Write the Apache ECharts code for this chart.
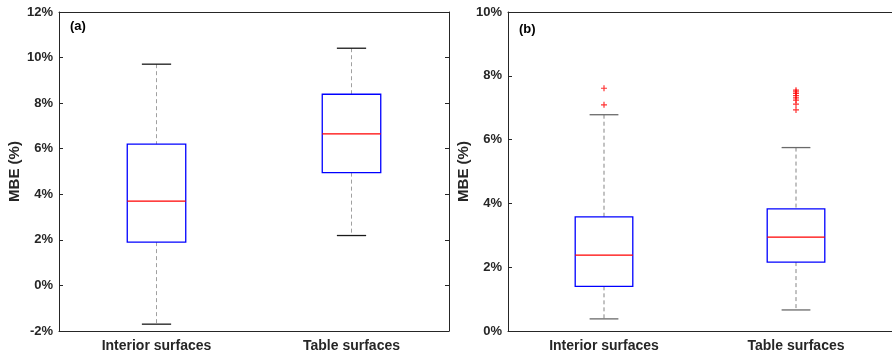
<!DOCTYPE html>
<html>
<head>
<meta charset="utf-8">
<script src="https://cdn.jsdelivr.net/npm/echarts@6/dist/echarts.min.js"></script>
<style>
  html, body { margin: 0; padding: 0; background: #fff; }
  #chart { width: 892px; height: 355px; }
</style>
</head>
<body>
<div id="chart"></div>
<script>
// categories
var categories = ['Interior surfaces', 'Table surfaces'];

// panel (a): [whiskerLow, q1, median, q3, whiskerHigh]
var boxA = [
  [-1.70, 1.90, 3.70, 6.20, 9.71],
  [2.19, 4.95, 6.65, 8.39, 10.41]
];
var outliersA = [];

// panel (b)
var boxB = [
  [0.38, 1.40, 2.38, 3.58, 6.78],
  [0.66, 2.16, 2.94, 3.83, 5.75]
];
var outliersB = [
  [0, 7.61], [0, 7.09],
  [1, 7.55], [1, 7.50], [1, 7.45], [1, 7.38], [1, 7.31], [1, 7.24], [1, 7.11], [1, 6.93]
];

var ticksA = { min: -2, max: 12, interval: 2 };
var ticksB = { min: 0, max: 10, interval: 2 };

var FONT = 'Liberation Sans, Arial, sans-serif';
var AXIS_COLOR = '#262626';

function makeBoxData(box) {
  return box.map(function (b, i) { return [i].concat(b); });
}

function boxRenderer(capColor, dashColor) {
  return function (params, api) {
    var idx = api.value(0);
    var pLow = api.coord([idx, api.value(1)]);
    var pQ1 = api.coord([idx, api.value(2)]);
    var pMed = api.coord([idx, api.value(3)]);
    var pQ3 = api.coord([idx, api.value(4)]);
    var pHigh = api.coord([idx, api.value(5)]);
    var band = api.size([1, 0])[0];
    var halfBox = band * 0.15;
    var halfCap = band * 0.075;
    var x = pMed[0];
    return {
      type: 'group',
      children: [
        { type: 'line', shape: { x1: x, y1: pHigh[1], x2: x, y2: pQ3[1] },
          style: { stroke: dashColor, lineWidth: 1, lineDash: [4, 3] } },
        { type: 'line', shape: { x1: x, y1: pQ1[1], x2: x, y2: pLow[1] },
          style: { stroke: dashColor, lineWidth: 1, lineDash: [4, 3] } },
        { type: 'line', shape: { x1: x - halfCap, y1: pHigh[1], x2: x + halfCap, y2: pHigh[1] },
          style: { stroke: capColor, lineWidth: 1.3 } },
        { type: 'line', shape: { x1: x - halfCap, y1: pLow[1], x2: x + halfCap, y2: pLow[1] },
          style: { stroke: capColor, lineWidth: 1.3 } },
        { type: 'rect', shape: { x: x - halfBox, y: pQ3[1], width: halfBox * 2, height: pQ1[1] - pQ3[1] },
          style: { fill: null, stroke: '#0000ff', lineWidth: 1.3 } },
        { type: 'line', shape: { x1: x - halfBox, y1: pMed[1], x2: x + halfBox, y2: pMed[1] },
          style: { stroke: '#ff0000', lineWidth: 1.2 } }
      ]
    };
  };
}

function xAxes(gridIndex) {
  return [
    {
      type: 'category', gridIndex: gridIndex, data: categories, position: 'bottom',
      axisLine: { onZero: false, lineStyle: { color: AXIS_COLOR, width: 1 } },
      axisTick: { inside: true, alignWithLabel: true, length: 4, lineStyle: { color: AXIS_COLOR } },
      axisLabel: { color: AXIS_COLOR, fontFamily: FONT, fontWeight: 'bold', fontSize: 14, margin: 8 },
      splitLine: { show: false }
    },
    {
      type: 'category', gridIndex: gridIndex, data: categories, position: 'top',
      axisLine: { onZero: false, lineStyle: { color: AXIS_COLOR, width: 1 } },
      axisTick: { inside: true, alignWithLabel: true, length: 4, lineStyle: { color: AXIS_COLOR } },
      axisLabel: { show: false },
      splitLine: { show: false }
    }
  ];
}

function yAxes(gridIndex, t, nameGap, showRight) {
  return [
    {
      type: 'value', gridIndex: gridIndex, position: 'left',
      min: t.min, max: t.max, interval: t.interval,
      name: 'MBE (%)', nameLocation: 'middle', nameRotate: 90, nameGap: nameGap,
      nameTextStyle: { color: AXIS_COLOR, fontFamily: FONT, fontWeight: 'bold', fontSize: 15 },
      axisLine: { show: true, onZero: false, lineStyle: { color: AXIS_COLOR, width: 1 } },
      axisTick: { show: true, inside: true, length: 4, lineStyle: { color: AXIS_COLOR } },
      axisLabel: { color: AXIS_COLOR, fontFamily: FONT, fontWeight: 'bold', fontSize: 13, margin: 6,
        formatter: '{value}%' },
      splitLine: { show: false }
    },
    {
      type: 'value', gridIndex: gridIndex, position: 'right', show: showRight,
      min: t.min, max: t.max, interval: t.interval,
      axisLine: { show: true, onZero: false, lineStyle: { color: AXIS_COLOR, width: 1 } },
      axisTick: { show: true, inside: true, length: 4, lineStyle: { color: AXIS_COLOR } },
      axisLabel: { show: false },
      splitLine: { show: false }
    }
  ];
}

var plus = 'path://M4,0H6V4H10V6H6V10H4V6H0V4H4Z';

var chart = echarts.init(document.getElementById('chart'), null, { renderer: 'canvas' });

var option = {
  backgroundColor: '#ffffff',
  animation: false,
  title: [
    { text: '(a)', left: 65, top: 15, textStyle: { fontFamily: FONT, fontWeight: 'bold', fontSize: 13, color: '#000' } },
    { text: '(b)', left: 514, top: 18, textStyle: { fontFamily: FONT, fontWeight: 'bold', fontSize: 13, color: '#000' } }
  ],
  grid: [
    { left: 59, top: 12, width: 390, height: 319, containLabel: false },
    { left: 508, top: 12, width: 389, height: 319, containLabel: false }
  ],
  xAxis: xAxes(0).concat(xAxes(1)),
  yAxis: yAxes(0, ticksA, 37, true).concat(yAxes(1, ticksB, 37, false)),
  series: [
    {
      type: 'custom', xAxisIndex: 0, yAxisIndex: 0,
      renderItem: boxRenderer('#1a1a1a', '#a0a0a0'),
      encode: { x: 0, y: [1, 2, 3, 4, 5] },
      data: makeBoxData(boxA)
    },
    {
      type: 'scatter', xAxisIndex: 0, yAxisIndex: 0,
      symbol: plus, symbolSize: 6, itemStyle: { color: '#ff0000' },
      data: outliersA
    },
    {
      type: 'custom', xAxisIndex: 2, yAxisIndex: 2,
      renderItem: boxRenderer('#6a6a6a', '#858585'),
      encode: { x: 0, y: [1, 2, 3, 4, 5] },
      data: makeBoxData(boxB)
    },
    {
      type: 'scatter', xAxisIndex: 2, yAxisIndex: 2,
      symbol: plus, symbolSize: 6, itemStyle: { color: '#ff0000' },
      data: outliersB
    }
  ]
};

chart.setOption(option);
</script>
</body>
</html>
